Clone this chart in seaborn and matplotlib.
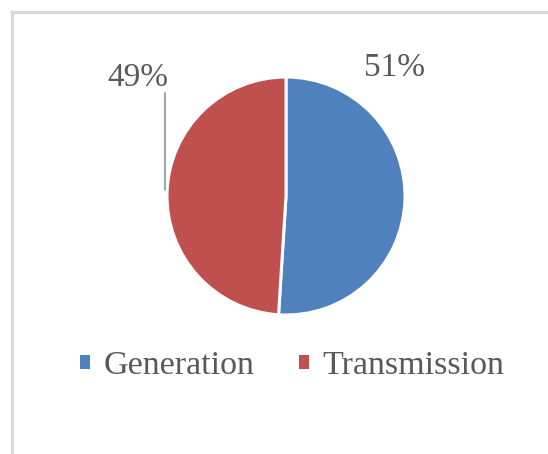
import matplotlib
matplotlib.use("Agg")
import matplotlib.pyplot as plt
from matplotlib.patches import Patch
from matplotlib.lines import Line2D
import seaborn as sns

categories = ["Generation", "Transmission"]
shares = [51, 49]
colors = ["#4F81BD", "#C0504D"]

sns.set_theme(style="white")
plt.rcParams["font.family"] = ["Liberation Serif", "DejaVu Serif"]

W, H = 548, 454
fig = plt.figure(figsize=(W / 100, H / 100), dpi=100)
ax = fig.add_axes([0, 0, 1, 1])

text_color = "#595959"

# chart area frame (top and left edges)
frame_kw = dict(color="#D9D9D9", lw=2.2, solid_capstyle="butt")
ax.add_line(Line2D([10, W], [H - 11.5, H - 11.5], **frame_kw))
ax.add_line(Line2D([11.5, 11.5], [H - 10, 0], **frame_kw))

wedges, _ = ax.pie(
    shares,
    colors=colors,
    startangle=90,
    counterclock=False,
    center=(286, H - 196),
    radius=119,
    wedgeprops=dict(edgecolor="white", linewidth=2.2),
    frame=True,
)
ax.set_xlim(0, W)
ax.set_ylim(0, H)
ax.set_aspect("equal")
ax.axis("off")

# percentage labels
ax.text(394, H - 68, f"{shares[0]}%", ha="center", va="center",
        fontsize=24, color=text_color)
ax.text(138, H - 78, f"{shares[1]}%", ha="center", va="center",
        fontsize=24, color=text_color)
# leader line for the Transmission label
ax.add_line(Line2D([165, 165], [H - 93, H - 190], color="#A6A6A6", lw=1.5))

handles = [Patch(facecolor=c, edgecolor="none") for c in colors]
leg = ax.legend(
    handles, categories,
    loc="center", bbox_to_anchor=(292, H - 366), bbox_transform=ax.transData,
    ncol=2, frameon=False, fontsize=24.5, labelcolor=text_color,
    handlelength=0.3, handleheight=0.3, handletextpad=0.4,
    columnspacing=1.3, borderpad=0,
)

fig.savefig("out.png", dpi=100, facecolor="white")
